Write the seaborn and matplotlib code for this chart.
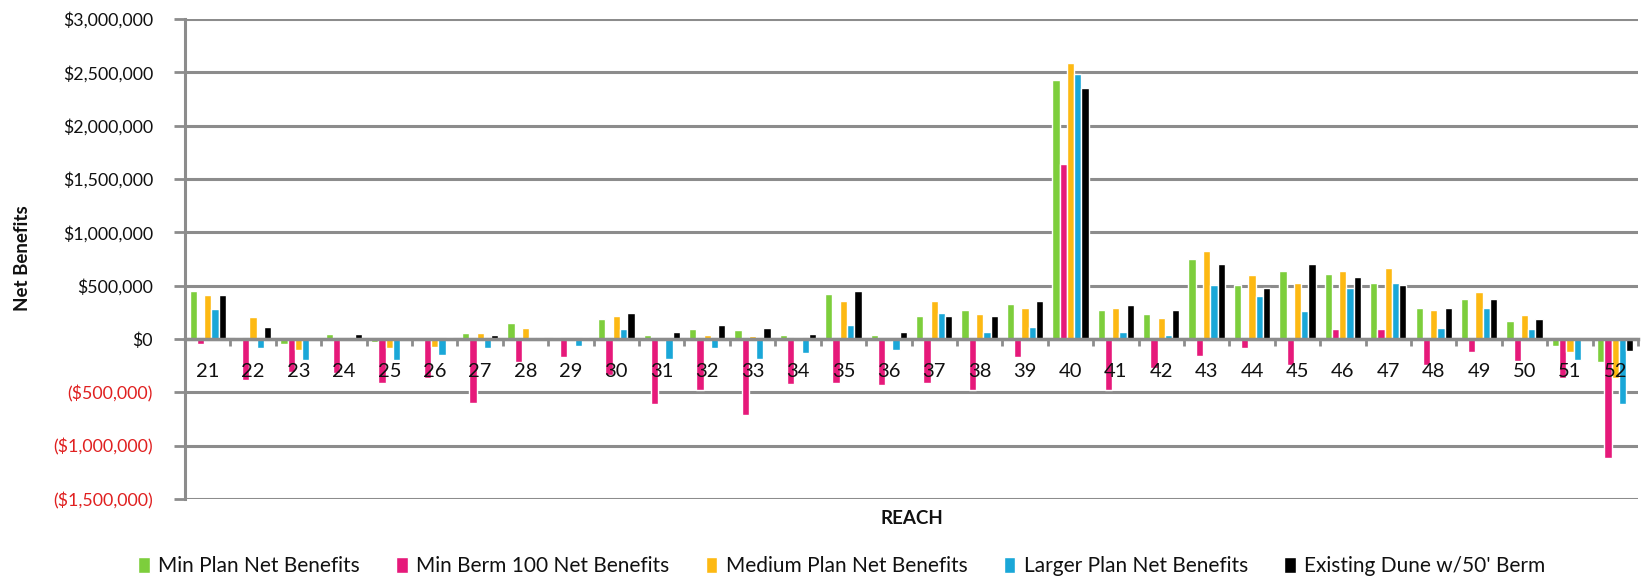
import numpy as np
import pandas as pd
import matplotlib
matplotlib.use("Agg")
import matplotlib.pyplot as plt
from matplotlib.ticker import FuncFormatter, FixedLocator
import seaborn as sns

# Reach numbers along the shoreline
reaches = list(range(21, 53))

# Net benefits per reach (dollars)
min_plan = [447000, 15000, -46000, 43000, -31000, 0, 56000, 154000, 18000, 188000,
            37000, 97000, 81000, 37000, 425000, 37000, 219000, 268000, 331000, 2431000,
            272000, 234000, 753000, 509000, 634000, 609000, 528000, 292000, 373000, 171000,
            -68000, -218000]
min_berm_100 = [-46000, -386000, -309000, -315000, -417000, -361000, -596000, -216000, -168000, -340000,
                -609000, -478000, -716000, -425000, -412000, -434000, -412000, -478000, -172000, 1644000,
                -478000, -270000, -159000, -84000, -244000, 94000, 96000, -240000, -118000, -208000,
                -370000, -1114000]
medium_plan = [410000, 207000, -99000, 0, -80000, -71000, 56000, 102000, 0, 219000,
               0, 37000, 31000, 16000, 359000, 12000, 359000, 237000, 291000, 2588000,
               291000, 200000, 822000, 597000, 528000, 634000, 661000, 273000, 444000, 224000,
               -118000, -365000]
larger_plan = [278000, -83000, -194000, 0, -194000, -148000, -83000, 22000, -66000, 97000,
               -184000, -87000, -184000, -131000, 134000, -103000, 240000, 66000, 116000, 2484000,
               66000, 37000, 509000, 406000, 266000, 478000, 528000, 106000, 292000, 96000,
               -199000, -609000]
existing_dune = [410000, 108000, 0, 43000, 0, 22000, 37000, 18000, 15000, 240000,
                 69000, 134000, 103000, 50000, 447000, 69000, 219000, 212000, 356000, 2350000,
                 319000, 272000, 703000, 475000, 703000, 581000, 506000, 292000, 373000, 186000,
                 0, -112000]

series_names = ["Min Plan Net Benefits", "Min Berm 100 Net Benefits",
                "Medium Plan Net Benefits", "Larger Plan Net Benefits",
                "Existing Dune w/50' Berm"]
series_values = [min_plan, min_berm_100, medium_plan, larger_plan, existing_dune]
colors = ["#7DCE3C", "#E6197A", "#FDB913", "#1AA7D8", "#000000"]

df = pd.concat(
    [pd.DataFrame({"Reach": [str(r) for r in reaches], "Value": vals, "Series": name})
     for name, vals in zip(series_names, series_values)],
    ignore_index=True,
)

sns.set_theme(style="white")
plt.rcParams["font.family"] = ["Lato", "DejaVu Sans"]

fig = plt.figure(figsize=(16.44, 5.79), dpi=100)
ax = fig.add_axes([185 / 1644, 1 - 499 / 579, (1638 - 185) / 1644, (499 - 19) / 579])

grid_col = "#8C8C8C"

sns.barplot(data=df, x="Reach", y="Value", hue="Series", hue_order=series_names,
            order=[str(r) for r in reaches], palette=colors, width=0.8,
            saturation=1, errorbar=None, ax=ax, zorder=2)

ax.set_ylim(-1500000, 3000000)
ax.set_xlim(-0.5, len(reaches) - 0.5)
yticks = np.arange(-1500000, 3000001, 500000)
ax.set_yticks(yticks)

# Horizontal gridlines kept underneath the bars; axis text stays on top
for y in yticks:
    ax.axhline(y, color=grid_col, linewidth=2.2, zorder=0.5)
ax.set_axisbelow(False)


def money(v, pos):
    v = int(round(v))
    if v < 0:
        return "(${:,})".format(-v)
    return "${:,}".format(v)


ax.yaxis.set_major_formatter(FuncFormatter(money))
ax.tick_params(axis="y", length=8, width=2, color=grid_col, direction="out",
               labelsize=12.8, pad=15, left=True)
for lab, val in zip(ax.get_yticklabels(), ax.get_yticks()):
    lab.set_color("#E02020" if val < 0 else "#111111")

# Category axis sits on the zero line, drawn over the bar bases
for s in ["top", "right"]:
    ax.spines[s].set_visible(False)
ax.spines["left"].set_color(grid_col)
ax.spines["left"].set_linewidth(2.2)
ax.spines["left"].set_zorder(0.6)
ax.spines["bottom"].set_position(("data", 0))
ax.spines["bottom"].set_color(grid_col)
ax.spines["bottom"].set_linewidth(2.5)
ax.spines["bottom"].set_zorder(3)
ax.xaxis.set_minor_locator(FixedLocator(np.arange(-0.5, len(reaches), 1.0)))
ax.tick_params(axis="x", which="major", length=0, labelsize=14.5, pad=17,
               labelcolor="#111111")
ax.tick_params(axis="x", which="minor", length=5, width=2, color=grid_col,
               direction="out", bottom=True)

ax.set_xlabel("")
ax.set_ylabel("")
fig.text(912 / 1644, 1 - 519 / 579, "REACH", ha="center", va="center",
         fontsize=13.5, fontweight="bold", color="#111111")
fig.text(22 / 1644, 1 - 258 / 579, "Net Benefits", ha="center", va="center",
         rotation=90, fontsize=13.5, fontweight="bold", color="#111111")

handles, labels = ax.get_legend_handles_labels()
ax.get_legend().remove()
fig.legend(handles, labels, loc="center", bbox_to_anchor=(842 / 1644, 1 - 566 / 579),
           ncol=5, frameon=False, fontsize=15, handlelength=0.55, handleheight=0.8,
           handletextpad=0.4, columnspacing=1.75, labelcolor="#111111")

fig.savefig("out.png", dpi=100)
